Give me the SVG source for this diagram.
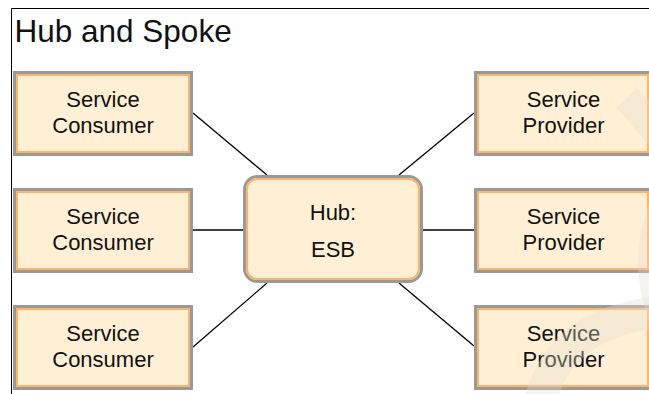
<svg xmlns="http://www.w3.org/2000/svg" width="649" height="394" viewBox="0 0 649 394">
<style>
  .outer { fill: #FFF0D5; stroke: #999999; stroke-width: 3; }
  .inner { fill: none; stroke: #FDB36C; stroke-width: 2; }
  .lbl { font-family: "Liberation Sans", Arial, sans-serif; font-size: 22px; fill: #111111; text-anchor: middle; }
  .title { font-family: "Liberation Sans", Arial, sans-serif; font-size: 31.5px; fill: #111111; }
  .conn { stroke: #000000; stroke-width: 1.3; fill: none; }
  .frame { stroke: #000000; stroke-width: 1; fill: none; }
  .wm { fill: rgb(225,220,210); opacity: 0.35; }
  .wms { fill: none; stroke: rgb(225,220,210); opacity: 0.35; }
</style>
<rect width="649" height="394" fill="#ffffff"/>
<path class="frame" d="M11.5 394 V8.5 H649"/>
<text class="title" x="14.5" y="41.5">Hub and Spoke</text>

<g id="connectors">
  <line class="conn" x1="193" y1="113" x2="267" y2="175"/>
  <line class="conn" x1="193" y1="230" x2="243" y2="230"/>
  <line class="conn" x1="193" y1="347" x2="267" y2="283"/>
  <line class="conn" x1="474" y1="113" x2="399" y2="175"/>
  <line class="conn" x1="423" y1="230" x2="474" y2="230"/>
  <line class="conn" x1="474" y1="346" x2="399" y2="283"/>
</g>

<g id="consumer1" transform="translate(13,71)">
  <rect class="outer" x="1.5" y="1.5" width="177" height="82"/>
  <rect class="inner" x="4" y="4" width="172" height="77"/>
  <text class="lbl" x="90" y="36.3">Service</text>
  <text class="lbl" x="90" y="62.3">Consumer</text>
</g>
<g id="consumer2" transform="translate(13,188)">
  <rect class="outer" x="1.5" y="1.5" width="177" height="82"/>
  <rect class="inner" x="4" y="4" width="172" height="77"/>
  <text class="lbl" x="90" y="35.5">Service</text>
  <text class="lbl" x="90" y="61.8">Consumer</text>
</g>
<g id="consumer3" transform="translate(13,305)">
  <rect class="outer" x="1.5" y="1.5" width="177" height="82"/>
  <rect class="inner" x="4" y="4" width="172" height="77"/>
  <text class="lbl" x="90" y="36">Service</text>
  <text class="lbl" x="90" y="62">Consumer</text>
</g>

<g id="provider1" transform="translate(474,71)">
  <rect class="outer" x="1.5" y="1.5" width="175" height="82"/>
  <rect class="inner" x="4" y="4" width="170" height="77"/>
  <text class="lbl" x="89.5" y="35.7">Service</text>
  <text class="lbl" x="89.5" y="61.7">Provider</text>
</g>
<g id="provider2" transform="translate(474,188)">
  <rect class="outer" x="1.5" y="1.5" width="175" height="82"/>
  <rect class="inner" x="4" y="4" width="170" height="77"/>
  <text class="lbl" x="89.5" y="35.5">Service</text>
  <text class="lbl" x="89.5" y="61.8">Provider</text>
</g>
<g id="provider3" transform="translate(474,305)">
  <rect class="outer" x="1.5" y="1.5" width="175" height="82"/>
  <rect class="inner" x="4" y="4" width="170" height="77"/>
  <text class="lbl" x="89.5" y="36">Service</text>
  <text class="lbl" x="89.5" y="62">Provider</text>
</g>

<g id="hub" transform="translate(243,175)">
  <rect class="outer" x="1.5" y="1.5" width="177" height="105" rx="13" ry="13"/>
  <rect class="inner" x="4" y="4" width="172" height="100" rx="10.5" ry="10.5"/>
  <text class="lbl" x="90" y="45">Hub:</text>
  <text class="lbl" x="90" y="81.5">ESB</text>
</g>

<g id="watermark">
  <polygon class="wm" points="617,108 637,88 680,130 649,145"/>
  <path class="wms" stroke-width="14" d="M656 205 Q634 262 656 320"/>
  <path class="wms" stroke-width="32" d="M540 402 Q560 322 660 312"/>
</g>
</svg>
